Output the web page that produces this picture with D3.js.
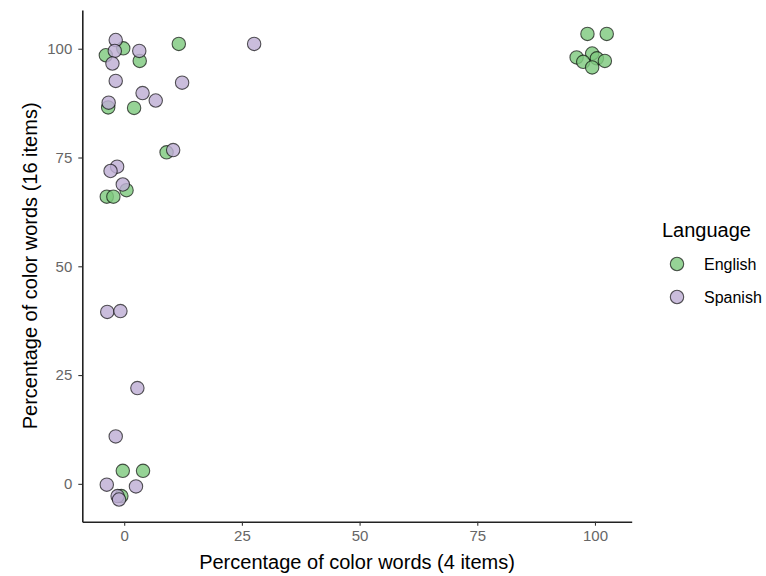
<!DOCTYPE html>
<html>
<head>
<meta charset="utf-8">
<script src="https://cdn.jsdelivr.net/npm/d3@7"></script>
<style>
  html, body { margin: 0; padding: 0; background: #fff; }
  svg { display: block; }
</style>
</head>
<body>
<svg id="chart" width="766" height="576"></svg>
<script>
// ---- Data ----
const englishX = [-0.2, -3.9, 3.3, 11.6, -3.4, 2.1, 9.0, 0.5, -3.7, -2.3, -0.3, 4.0, -0.6,
                  98.4, 102.5, 96.1, 99.4, 97.5, 100.4, 102.1, 99.4];
const englishY = [100.1, 98.5, 97.2, 101.1, 86.5, 86.4, 76.2, 67.5, 66.0, 66.0, 3.0, 3.0, -2.8,
                  103.4, 103.4, 98.0, 98.9, 97.0, 97.8, 97.2, 95.7];
const spanishX = [-1.8, -2.0, -2.5, 3.2, 27.6, -1.8, 12.3, 3.9, 6.7, -3.3, 10.4, -1.5, -2.9, -0.3,
                  -3.6, -0.8, 2.8, -1.8, -3.7, 2.5, -1.4, -1.1];
const spanishY = [102.0, 99.5, 96.6, 99.5, 101.1, 92.6, 92.2, 89.8, 88.1, 87.6, 76.7, 72.9, 71.9, 68.8,
                  39.5, 39.7, 22.0, 10.9, -0.2, -0.6, -2.8, -3.6];
const languages = ["English", "Spanish"];
const xTicks = [0, 25, 50, 75, 100];
const yTicks = [0, 25, 50, 75, 100];

const series = [
  { lang: "English", xs: englishX, ys: englishY },
  { lang: "Spanish", xs: spanishX, ys: spanishY }
];

// ---- Layout ----
const svg = d3.select("#chart");
const pLeft = 82.3, pRight = 631.7, pTop = 10, pBottom = 521.7;
const font = "'Liberation Sans', Arial, Helvetica, sans-serif";

const x = d3.scaleLinear().domain([-8.9, 107.8]).range([pLeft, pRight]);
const y = d3.scaleLinear().domain([-8.7, 108.9]).range([pBottom, pTop]);
const color = d3.scaleOrdinal().domain(languages).range(["#7fc97f", "#beaed4"]);

// points
const pts = [];
series.forEach(s => s.xs.forEach((v, i) => pts.push({ lang: s.lang, x: v, y: s.ys[i] })));

svg.append("g").selectAll("circle").data(pts).enter().append("circle")
  .attr("cx", d => x(d.x))
  .attr("cy", d => y(d.y))
  .attr("r", 6.7)
  .attr("fill", d => color(d.lang))
  .attr("fill-opacity", 0.82)
  .attr("stroke", "#000")
  .attr("stroke-opacity", 0.65)
  .attr("stroke-width", 1.1);

// axes
const xAxis = svg.append("g").attr("transform", `translate(0,${pBottom})`)
  .call(d3.axisBottom(x).tickValues(xTicks).tickSize(4).tickPadding(5).tickSizeOuter(0));
const yAxis = svg.append("g").attr("transform", `translate(${pLeft},0)`)
  .call(d3.axisLeft(y).tickValues(yTicks).tickSize(4).tickPadding(6).tickSizeOuter(0));

[xAxis, yAxis].forEach(a => {
  a.select(".domain").attr("stroke", "#222").attr("stroke-width", 1.6);
  a.selectAll(".tick line").attr("stroke", "#333").attr("stroke-width", 1.1);
  a.selectAll(".tick text").attr("fill", "#666").style("font-family", font).style("font-size", "15px");
});

// axis titles
svg.append("text")
  .attr("x", (pLeft + pRight) / 2).attr("y", 569)
  .attr("text-anchor", "middle")
  .style("font-family", font).style("font-size", "20px").attr("fill", "#000")
  .text("Percentage of color words (4 items)");

svg.append("text")
  .attr("transform", `translate(37,${(pTop + pBottom) / 2}) rotate(-90)`)
  .attr("text-anchor", "middle")
  .style("font-family", font).style("font-size", "20px").attr("fill", "#000")
  .text("Percentage of color words (16 items)");

// legend
const lg = svg.append("g");
lg.append("text").attr("x", 662).attr("y", 237)
  .style("font-family", font).style("font-size", "20px").attr("fill", "#000")
  .text("Language");
languages.forEach((l, i) => {
  const cy = 264 + i * 33;
  lg.append("circle").attr("cx", 677).attr("cy", cy).attr("r", 6.7)
    .attr("fill", color(l)).attr("fill-opacity", 0.82)
    .attr("stroke", "#000").attr("stroke-opacity", 0.65).attr("stroke-width", 1.1);
  lg.append("text").attr("x", 704).attr("y", cy + 5.5)
    .style("font-family", font).style("font-size", "16px").attr("fill", "#000")
    .text(l);
});
</script>
</body>
</html>
